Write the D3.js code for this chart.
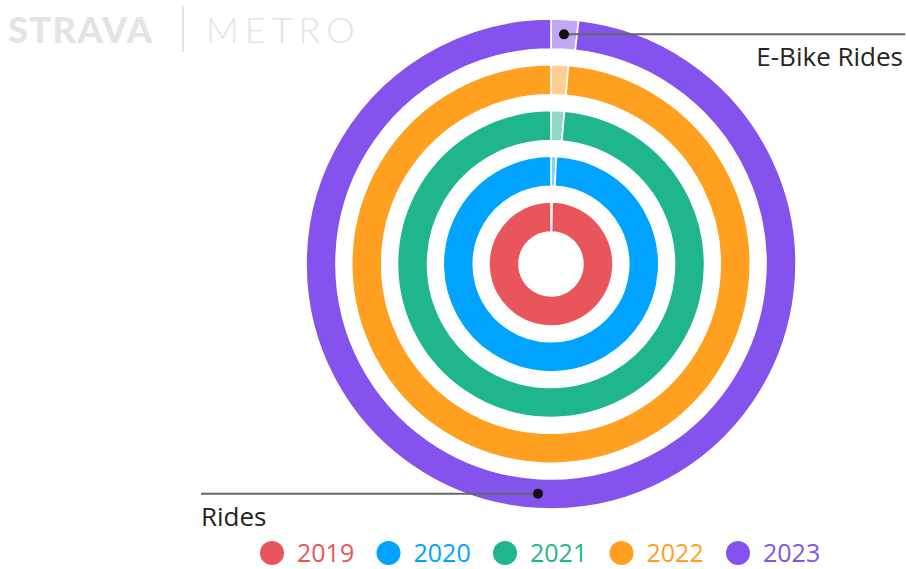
<!DOCTYPE html>
<html>
<head>
<meta charset="utf-8">
<script src="https://cdn.jsdelivr.net/npm/d3@7"></script>
<style>
  body { margin: 0; background: #fff; }
  svg { display: block; font-family: "Open Sans", "Noto Sans", sans-serif; }
</style>
</head>
<body>
<svg id="chart" width="906" height="569"></svg>
<script>
// data: share of e-bike rides vs other rides per year (percent)
const years = ["2019", "2020", "2021", "2022", "2023"];
const ebikeShare = [0.3, 0.8, 1.4, 1.4, 1.8];
const rideShare = [99.7, 99.2, 98.6, 98.6, 98.2];
const yearColors = ["#E8555A", "#00A3FF", "#1FB58D", "#FFA020", "#8452EC"];
const sliceNames = ["E-Bike Rides", "Rides"];

const svg = d3.select("#chart");
const cx = 551, cy = 264;

const color = d3.scaleOrdinal().domain(years).range(yearColors);

// one ring per year, innermost = 2019
const ring = d3.scaleBand()
  .domain(years)
  .range([32, 245])
  .paddingInner(0.344);

const pie = d3.pie().sort(null).value(d => d.value);

const g = svg.append("g").attr("transform", `translate(${cx},${cy})`);

years.forEach((yr, i) => {
  const slices = pie([
    { name: sliceNames[0], value: ebikeShare[i] },
    { name: sliceNames[1], value: rideShare[i] }
  ]);
  const arc = d3.arc()
    .innerRadius(ring(yr))
    .outerRadius(ring(yr) + ring.bandwidth());

  g.append("g").selectAll("path")
    .data(slices)
    .enter().append("path")
    .attr("d", arc)
    .attr("fill", color(yr))
    .attr("fill-opacity", d => d.data.name === "E-Bike Rides" ? 0.5 : 1)
    .attr("stroke", "#fff")
    .attr("stroke-width", 1.6);
});

// leader lines on the outer ring (2023)
const last = years[years.length - 1];
const outerSlices = pie([
  { name: sliceNames[0], value: ebikeShare[4] },
  { name: sliceNames[1], value: rideShare[4] }
]);
const midR = ring(last) + ring.bandwidth() / 2;
function pointAt(s) {
  const a = (s.startAngle + s.endAngle) / 2;
  return [cx + midR * Math.sin(a), cy - midR * Math.cos(a)];
}

const pE = pointAt(outerSlices[0]);
const pR = pointAt(outerSlices[1]);

svg.append("line")
  .attr("x1", pE[0]).attr("y1", pE[1])
  .attr("x2", 905).attr("y2", pE[1])
  .attr("stroke", "#666").attr("stroke-width", 2);
svg.append("circle").attr("cx", pE[0]).attr("cy", pE[1]).attr("r", 5).attr("fill", "#111");
svg.append("text")
  .attr("x", 903).attr("y", pE[1] + 32)
  .attr("text-anchor", "end")
  .attr("font-size", 26)
  .attr("fill", "#252423")
  .text("E-Bike Rides");

svg.append("line")
  .attr("x1", 201).attr("y1", pR[1])
  .attr("x2", pR[0]).attr("y2", pR[1])
  .attr("stroke", "#666").attr("stroke-width", 2);
svg.append("circle").attr("cx", pR[0]).attr("cy", pR[1]).attr("r", 5).attr("fill", "#111");
svg.append("text")
  .attr("x", 201).attr("y", pR[1] + 32)
  .attr("font-size", 26)
  .attr("fill", "#252423")
  .text("Rides");

// legend
const legendX = d3.scalePoint().domain(years).range([272, 738]);
const leg = svg.append("g").selectAll("g")
  .data(years)
  .enter().append("g")
  .attr("transform", d => `translate(${legendX(d)},553)`);
leg.append("circle").attr("r", 12).attr("fill", d => color(d));
leg.append("text")
  .attr("x", 25).attr("y", 9)
  .attr("font-size", 25)
  .attr("fill", d => color(d))
  .text(d => d);

// watermark logo
const logo = svg.append("g").attr("fill", "#E4E4E4");
logo.append("text")
  .attr("x", 8).attr("y", 43)
  .attr("font-size", 36)
  .attr("font-weight", 900)
  .attr("font-family", "Lato, 'Open Sans', sans-serif")
  .attr("letter-spacing", 1.5)
  .text("STRAVA");
logo.append("line")
  .attr("x1", 183).attr("x2", 183).attr("y1", 6).attr("y2", 52)
  .attr("stroke", "#E4E4E4").attr("stroke-width", 2);
logo.append("text")
  .attr("x", 206).attr("y", 43)
  .attr("font-size", 36)
  .attr("font-weight", 300)
  .attr("font-family", "Lato, 'Open Sans', sans-serif")
  .attr("letter-spacing", 6)
  .text("METRO");
</script>
</body>
</html>
